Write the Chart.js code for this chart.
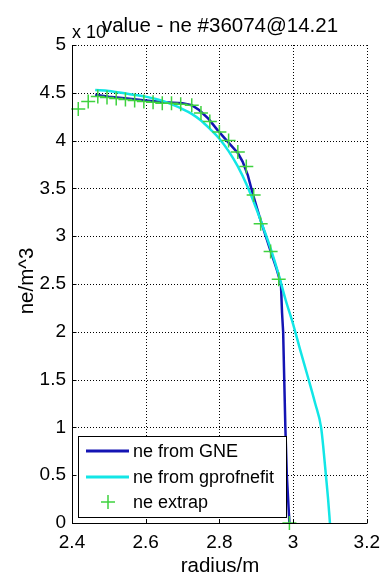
<!DOCTYPE html>
<html>
<head>
<meta charset="utf-8">
<script src="https://cdn.jsdelivr.net/npm/chart.js@4"></script>
<style>
  body { margin: 0; background: #fff; }
  canvas { display: block; }
</style>
</head>
<body>
<canvas id="neChart" width="388" height="580"></canvas>
<script>
// ne profile data (radius in m, density in 1e19 m^-3)
const gneRadius = [2.463, 2.5, 2.55, 2.6, 2.65, 2.7, 2.725, 2.745, 2.77, 2.795, 2.82, 2.85, 2.863, 2.877, 2.89, 2.91, 2.935, 2.955, 2.967, 2.97, 2.973, 2.976, 2.979, 2.983, 2.99];
const gneValues = [4.48, 4.46, 4.44, 4.42, 4.40, 4.39, 4.37, 4.32, 4.23, 4.11, 4.00, 3.87, 3.78, 3.64, 3.45, 3.19, 2.89, 2.66, 2.50, 2.2, 2.0, 1.5, 1.0, 0.5, 0.0];

const fitRadius = [2.463, 2.5, 2.55, 2.6, 2.65, 2.7, 2.725, 2.75, 2.775, 2.8, 2.825, 2.85, 2.875, 2.9, 2.92, 2.94, 2.96, 2.98, 3.0, 3.02, 3.04, 3.06, 3.076, 3.083, 3.089, 3.095, 3.1];
const fitValues = [4.53, 4.52, 4.49, 4.46, 4.41, 4.33, 4.28, 4.21, 4.12, 4.02, 3.89, 3.73, 3.53, 3.29, 3.08, 2.86, 2.61, 2.33, 2.08, 1.80, 1.53, 1.25, 1.0, 0.75, 0.5, 0.25, 0.0];

const extrapRadius = [2.417, 2.444, 2.47, 2.495, 2.52, 2.545, 2.57, 2.595, 2.62, 2.645, 2.67, 2.695, 2.725, 2.75, 2.774, 2.80, 2.825, 2.85, 2.873, 2.893, 2.912, 2.939, 2.961, 2.99];
const extrapValues = [4.33, 4.41, 4.46, 4.45, 4.44, 4.43, 4.42, 4.41, 4.40, 4.39, 4.39, 4.38, 4.37, 4.29, 4.20, 4.09, 4.00, 3.88, 3.73, 3.43, 3.13, 2.84, 2.55, 0.0];

const xTicks = [2.4, 2.6, 2.8, 3.0, 3.2];
const yTicks = [0, 0.5, 1, 1.5, 2, 2.5, 3, 3.5, 4, 4.5, 5];

const FONT = '"Liberation Sans", Arial, sans-serif';
const BLUE = '#1414b4';
const CYAN = '#12e6e6';
const GREEN = '#3fd23f';

function toPoints(xs, ys) {
    return xs.map(function(x, i) { return { x: x, y: ys[i] }; });
}

// dotted grid under the data
const dottedGrid = {
    id: 'dottedGrid',
    beforeDatasetsDraw(chart) {
        const ctx = chart.ctx;
        const a = chart.chartArea;
        const xs = chart.scales.x, ys = chart.scales.y;
        ctx.save();
        ctx.strokeStyle = '#000';
        ctx.lineWidth = 1;
        ctx.setLineDash([1, 2]);
        ctx.beginPath();
        xTicks.forEach(function(t) {
            const px = Math.round(xs.getPixelForValue(t)) + 0.5;
            ctx.moveTo(px, a.top); ctx.lineTo(px, a.bottom);
        });
        yTicks.forEach(function(t) {
            const py = Math.round(ys.getPixelForValue(t)) + 0.5;
            ctx.moveTo(a.left, py); ctx.lineTo(a.right, py);
        });
        ctx.stroke();
        ctx.restore();
    }
};

// axes, inward ticks, titles and legend (MATLAB look)
const matlabDecor = {
    id: 'matlabDecor',
    afterDraw(chart) {
        const ctx = chart.ctx;
        const a = chart.chartArea;
        const xs = chart.scales.x, ys = chart.scales.y;
        ctx.save();

        // left + bottom axis lines with inward ticks
        const x0 = Math.round(a.left) + 0.5, y0 = Math.round(a.bottom) + 0.5;
        ctx.strokeStyle = '#000';
        ctx.lineWidth = 1;
        ctx.beginPath();
        ctx.moveTo(x0, a.top); ctx.lineTo(x0, y0); ctx.lineTo(a.right, y0);
        xTicks.forEach(function(t) {
            const px = Math.round(xs.getPixelForValue(t)) + 0.5;
            ctx.moveTo(px, y0); ctx.lineTo(px, y0 - 4);
        });
        yTicks.forEach(function(t) {
            const py = Math.round(ys.getPixelForValue(t)) + 0.5;
            ctx.moveTo(x0, py); ctx.lineTo(x0 + 4, py);
        });
        ctx.stroke();

        // exponent label and title
        ctx.fillStyle = '#000';
        ctx.textBaseline = 'alphabetic';
        ctx.textAlign = 'left';
        ctx.font = '18px ' + FONT;
        ctx.fillText('x 10', a.left, 38);
        ctx.font = '20.5px ' + FONT;
        ctx.textAlign = 'center';
        ctx.fillText('value - ne #36074@14.21', 220, 32);

        // axis titles
        ctx.font = '20.5px ' + FONT;
        ctx.textBaseline = 'middle';
        ctx.fillText('radius/m', 220, 566);
        ctx.save();
        ctx.translate(27, 281);
        ctx.rotate(-Math.PI / 2);
        ctx.fillText('ne/m^3', 0, 0);
        ctx.restore();

        // legend
        const lx = 78, ly = 436, lw = 208, lh = 81;
        ctx.fillStyle = '#fff';
        ctx.fillRect(lx, ly, lw, lh);
        ctx.strokeStyle = '#000';
        ctx.lineWidth = 1;
        ctx.strokeRect(lx + 0.5, ly + 0.5, lw, lh);

        const rows = [
            { label: 'ne from GNE', color: BLUE, y: 451, kind: 'line' },
            { label: 'ne from gprofnefit', color: CYAN, y: 477, kind: 'line' },
            { label: 'ne extrap', color: GREEN, y: 502, kind: 'cross' }
        ];
        rows.forEach(function(r) {
            ctx.strokeStyle = r.color;
            if (r.kind === 'line') {
                ctx.lineWidth = 3;
                ctx.beginPath();
                ctx.moveTo(86, r.y); ctx.lineTo(129, r.y);
                ctx.stroke();
            } else {
                ctx.lineWidth = 1.5;
                ctx.beginPath();
                ctx.moveTo(101, r.y); ctx.lineTo(115, r.y);
                ctx.moveTo(108, r.y - 7); ctx.lineTo(108, r.y + 7);
                ctx.stroke();
            }
            ctx.fillStyle = '#000';
            ctx.font = '18px ' + FONT;
            ctx.textAlign = 'left';
            ctx.textBaseline = 'middle';
            ctx.fillText(r.label, 133, r.y + 1);
        });

        ctx.restore();
    }
};

const ctx = document.getElementById('neChart').getContext('2d');
const neChart = new Chart(ctx, {
    type: 'scatter',
    data: {
        datasets: [{
            label: 'ne from GNE',
            data: toPoints(gneRadius, gneValues),
            showLine: true,
            borderColor: BLUE,
            backgroundColor: BLUE,
            borderWidth: 2.5,
            pointRadius: 0,
            tension: 0,
            order: 2
        }, {
            label: 'ne from gprofnefit',
            data: toPoints(fitRadius, fitValues),
            showLine: true,
            borderColor: CYAN,
            backgroundColor: CYAN,
            borderWidth: 2.5,
            pointRadius: 0,
            cubicInterpolationMode: 'monotone',
            order: 1
        }, {
            label: 'ne extrap',
            data: toPoints(extrapRadius, extrapValues),
            showLine: false,
            pointStyle: 'cross',
            pointRadius: 7,
            borderColor: GREEN,
            backgroundColor: GREEN,
            borderWidth: 1.5,
            clip: false,
            order: 0
        }]
    },
    options: {
        responsive: false,
        animation: false,
        layout: { padding: { top: 45, left: 0, right: 16, bottom: 0 } },
        plugins: {
            legend: { display: false },
            tooltip: { enabled: false },
            title: { display: false }
        },
        scales: {
            x: {
                type: 'linear',
                min: 2.4,
                max: 3.2,
                afterFit: function(scale) { scale.height = 57; },
                afterBuildTicks: function(scale) {
                    scale.ticks = xTicks.map(function(v) { return { value: v }; });
                },
                grid: { display: false, drawTicks: false },
                border: { display: false },
                ticks: {
                    color: '#000',
                    padding: 8,
                    font: { family: FONT, size: 19 },
                    callback: function(v) { return Number(v.toFixed(1)).toString(); }
                }
            },
            y: {
                type: 'linear',
                min: 0,
                max: 5,
                afterFit: function(scale) { scale.width = 72; },
                afterBuildTicks: function(scale) {
                    scale.ticks = yTicks.map(function(v) { return { value: v }; });
                },
                grid: { display: false, drawTicks: false },
                border: { display: false },
                ticks: {
                    color: '#000',
                    padding: 6,
                    font: { family: FONT, size: 19 },
                    callback: function(v) { return Number(v.toFixed(1)).toString(); }
                }
            }
        }
    },
    plugins: [dottedGrid, matlabDecor]
});
</script>
</body>
</html>
